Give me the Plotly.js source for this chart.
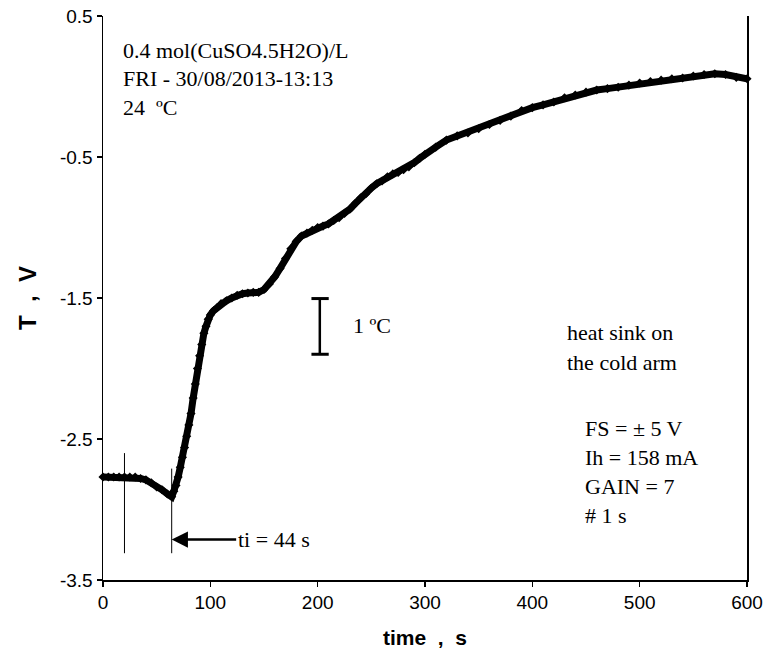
<!DOCTYPE html>
<html>
<head>
<meta charset="utf-8">
<script src="https://cdn.plot.ly/plotly-3.0.1.min.js"></script>
<style>html,body{margin:0;padding:0;background:#fff;}#chart{width:769px;height:655px;}</style>
</head>
<body>
<div id="chart"></div>
<script>
// time (s)
const timeS = [0,5,10,15,20,25,30,35,40,45,50,55,60,64,66,68,70,72,74,76,78,80,82,84,86,88,90,92,94,96,98,100,103,106,110,115,120,125,130,135,140,145,150,155,160,165,170,175,180,185,190,195,200,205,210,215,220,225,230,235,240,245,250,255,260,265,270,275,280,285,290,295,300,310,320,330,340,350,360,370,380,390,400,410,420,430,440,450,460,470,480,490,500,510,520,530,540,550,560,570,580,590,600];
// signal T (V)
const signalV = [-2.77,-2.77,-2.77,-2.77,-2.77,-2.77,-2.77,-2.78,-2.79,-2.81,-2.84,-2.86,-2.89,-2.91,-2.87,-2.83,-2.77,-2.70,-2.63,-2.56,-2.48,-2.40,-2.32,-2.21,-2.11,-2.00,-1.91,-1.83,-1.75,-1.70,-1.65,-1.62,-1.59,-1.57,-1.54,-1.52,-1.50,-1.48,-1.47,-1.465,-1.46,-1.46,-1.44,-1.40,-1.35,-1.29,-1.22,-1.15,-1.10,-1.06,-1.04,-1.02,-1.00,-0.99,-0.975,-0.95,-0.93,-0.90,-0.87,-0.83,-0.79,-0.76,-0.72,-0.69,-0.67,-0.64,-0.62,-0.61,-0.59,-0.57,-0.54,-0.51,-0.48,-0.43,-0.38,-0.35,-0.33,-0.30,-0.27,-0.24,-0.21,-0.17,-0.15,-0.13,-0.11,-0.08,-0.06,-0.04,-0.025,-0.015,-0.005,0.01,0.025,0.035,0.045,0.055,0.06,0.075,0.085,0.09,0.085,0.065,0.055];
// tick labels
const xTickVals = [0,100,200,300,400,500,600];
const xTickText = ["0","100","200","300","400","500","600"];
const yTickVals = [0.5,-0.5,-1.5,-2.5,-3.5];
const yTickText = ["0.5","-0.5","-1.5","-2.5","-3.5"];

const serif = "Liberation Serif, Times New Roman, serif";
const sans = "Liberation Sans, Arial, sans-serif";
const NB = "\u00a0";

const trace = {
  x: timeS, y: signalV, type: "scatter", mode: "lines+markers",
  line: {color: "#000", width: 7},
  marker: {symbol: "diamond", size: 7, color: "#000"},
  cliponaxis: false, showlegend: false, hoverinfo: "skip"
};

function txt(x, y, text, anchor) {
  return {x: x, y: y, xref: "x", yref: "y", text: text, showarrow: false,
          xanchor: anchor || "left", yanchor: "middle",
          font: {family: serif, size: 22, color: "#000"}};
}

const layout = {
  width: 769, height: 655,
  margin: {l: 103, r: 22, t: 16, b: 75},
  paper_bgcolor: "#fff", plot_bgcolor: "#fff",
  showlegend: false,
  xaxis: {
    range: [0, 600], tickvals: xTickVals, ticktext: xTickText,
    ticks: "outside", ticklen: 5, tickwidth: 1.5, tickcolor: "#000",
    showline: true, linecolor: "#000", linewidth: 1.5,
    showgrid: false, zeroline: false,
    tickfont: {family: sans, size: 19, color: "#000"},
    title: {text: "<b>time" + NB + NB + "," + NB + NB + "s</b>", font: {family: sans, size: 21, color: "#000"}, standoff: 18},
    automargin: false
  },
  yaxis: {
    range: [-3.5, 0.5], tickvals: yTickVals, ticktext: yTickText,
    ticks: "outside", ticklen: 5, tickwidth: 1.5, tickcolor: "#000",
    showline: true, linecolor: "#000", linewidth: 1.5, mirror: true,
    showgrid: false, zeroline: false,
    tickfont: {family: sans, size: 19, color: "#000"},
    title: {text: "<b>T" + NB + NB + "," + NB + NB + "V</b>", font: {family: sans, size: 24, color: "#000"}, standoff: 16},
    automargin: false
  },
  shapes: [
    {type: "line", xref: "x", yref: "y", x0: 20, x1: 20, y0: -2.60, y1: -3.31, line: {color: "#000", width: 1}},
    {type: "line", xref: "x", yref: "y", x0: 64, x1: 64, y0: -2.71, y1: -3.31, line: {color: "#000", width: 1}},
    {type: "line", xref: "x", yref: "y", x0: 202, x1: 202, y0: -1.504, y1: -1.899, line: {color: "#000", width: 2.5}},
    {type: "line", xref: "x", yref: "y", x0: 194.2, x1: 210.3, y0: -1.504, y1: -1.504, line: {color: "#000", width: 3}},
    {type: "line", xref: "x", yref: "y", x0: 194.2, x1: 210.3, y0: -1.899, y1: -1.899, line: {color: "#000", width: 3}}
  ],
  annotations: [
    txt(17, 0.252, "0.4 mol(CuSO4.5H2O)/L"),
    txt(17, 0.056, "FRI - 30/08/2013-13:13"),
    txt(17, -0.150, "24" + NB + NB + "ºC"),
    txt(231, -1.694, "1 ºC"),
    txt(430, -1.748, "heat sink on"),
    txt(430, -1.954, "the cold arm"),
    txt(447, -2.426, "FS = ± 5 V"),
    txt(447, -2.628, "Ih = 158 mA"),
    txt(447, -2.840, "GAIN = 7"),
    txt(447, -3.041, "# 1 s"),
    {x: 64, y: -3.213, xref: "x", yref: "y", ax: 159, ay: -3.213, axref: "x", ayref: "y",
     text: "ti = 44 s", showarrow: true, arrowhead: 2, arrowsize: 1.3, arrowwidth: 2.5, arrowcolor: "#000",
     standoff: 0, startstandoff: 0,
     font: {family: serif, size: 22, color: "#000"}}
  ]
};

Plotly.newPlot("chart", [trace], layout, {staticPlot: true, displayModeBar: false});
</script>
</body>
</html>
